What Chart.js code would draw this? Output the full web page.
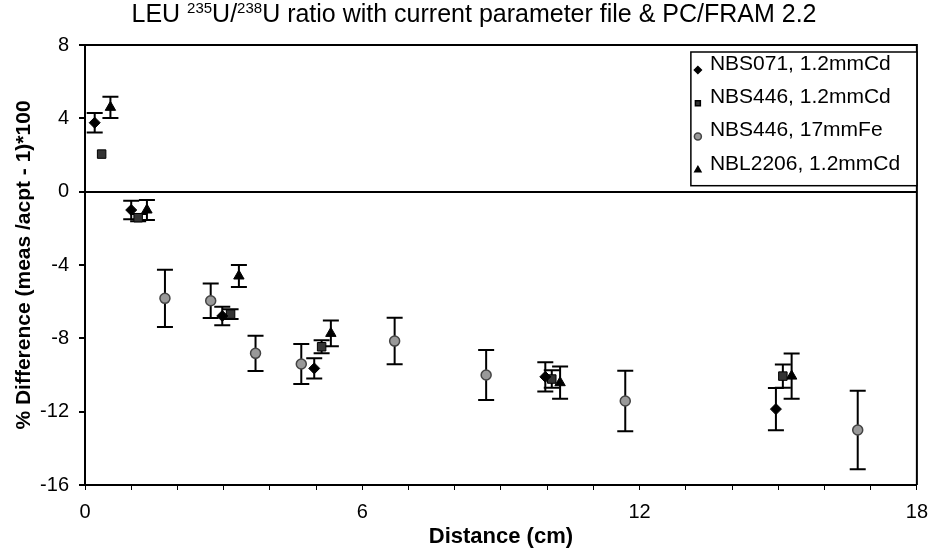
<!DOCTYPE html>
<html>
<head>
<meta charset="utf-8">
<script src="https://cdn.jsdelivr.net/npm/chart.js@4/dist/chart.umd.min.js"></script>
<style>
  html, body { margin: 0; padding: 0; background: #fff; }
  #wrap { position: relative; width: 938px; height: 551px; }
  #title {
    position: absolute; left: 5px; top: -1px; width: 938px; text-align: center;
    font: 25px "Liberation Sans", Arial, sans-serif; color: #000; white-space: nowrap;
  }
  #title sup { font-size: 15px; vertical-align: 9px; line-height: 0; }
</style>
</head>
<body>
<div id="wrap">
  <canvas id="chart" width="938" height="551"></canvas>
  <div id="title">LEU <sup>235</sup>U/<sup>238</sup>U ratio with current parameter file &amp; PC/FRAM 2.2</div>
</div>
<script>
// distance (cm), % difference and +/- error for each source
const distNBS071 = [0.21, 1.0, 2.97, 4.96, 9.96, 14.95];
const diffNBS071 = [3.76, -1.0, -6.78, -9.64, -10.1, -11.86];
const errNBS071 = [0.53, 0.5, 0.5, 0.55, 0.8, 1.15];

const distNBS446Cd = [0.36, 1.15, 3.15, 5.12, 10.1, 15.1];
const diffNBS446Cd = [2.05, -1.42, -6.68, -8.46, -10.22, -10.06];
const errNBS446Cd = [0, 0.2, 0.27, 0.35, 0.48, 0.63];

const distNBS446Fe = [1.73, 2.72, 3.69, 4.68, 6.7, 8.68, 11.69, 16.72];
const diffNBS446Fe = [-5.82, -5.95, -8.82, -9.4, -8.15, -10.0, -11.42, -13.0];
const errNBS446Fe = [1.56, 0.94, 0.96, 1.09, 1.27, 1.37, 1.65, 2.14];

const distNBL2206 = [0.55, 1.34, 3.33, 5.32, 10.28, 15.29];
const diffNBL2206 = [4.6, -1.0, -4.6, -7.73, -10.42, -10.06];
const errNBL2206 = [0.58, 0.55, 0.6, 0.7, 0.88, 1.23];

const seriesLabels = ['NBS071, 1.2mmCd', 'NBS446, 1.2mmCd', 'NBS446, 17mmFe', 'NBL2206, 1.2mmCd'];

const FONT = '"Liberation Sans", Arial, sans-serif';

function points(dist, diff, err) {
  return dist.map((d, i) => ({ x: d, y: diff[i], err: err[i] }));
}

// vertical error bars with caps, drawn under the markers
const errorBars = {
  id: 'errorBars',
  beforeDatasetsDraw(chart) {
    const { ctx, scales: { x, y } } = chart;
    ctx.save();
    ctx.strokeStyle = '#000';
    ctx.lineWidth = 2;
    chart.data.datasets.forEach((ds) => {
      ds.data.forEach((pt) => {
        if (!pt.err) return;
        const px = x.getPixelForValue(pt.x);
        const top = y.getPixelForValue(pt.y + pt.err);
        const bot = y.getPixelForValue(pt.y - pt.err);
        ctx.beginPath();
        ctx.moveTo(px, top); ctx.lineTo(px, bot);
        ctx.moveTo(px - 8, top); ctx.lineTo(px + 8, top);
        ctx.moveTo(px - 8, bot); ctx.lineTo(px + 8, bot);
        ctx.stroke();
      });
    });
    ctx.restore();
  }
};

// top and right edges of the plot frame
const frame = {
  id: 'frame',
  beforeDatasetsDraw(chart) {
    const { ctx, chartArea: a } = chart;
    ctx.save();
    ctx.strokeStyle = '#000';
    ctx.lineWidth = 2;
    ctx.beginPath();
    ctx.moveTo(a.left, a.top);
    ctx.lineTo(a.right, a.top);
    ctx.lineTo(a.right, a.bottom);
    ctx.stroke();
    ctx.restore();
  }
};

// boxed legend in the top right corner of the plot
const boxLegend = {
  id: 'boxLegend',
  afterDraw(chart) {
    const { ctx, chartArea: a } = chart;
    const w = 226, rowH = 33.3, top = a.top + 7;
    const h = rowH * chart.data.datasets.length + 0.5;
    const left = a.right - w;
    ctx.save();
    ctx.fillStyle = '#fff';
    ctx.fillRect(left, top, w, h);
    ctx.strokeStyle = '#000';
    ctx.lineWidth = 1.5;
    ctx.strokeRect(left, top, w, h);
    ctx.font = '21px ' + FONT;
    ctx.textBaseline = 'middle';
    chart.data.datasets.forEach((ds, i) => {
      const cy = top + 12 + i * rowH;
      ctx.fillStyle = ds.backgroundColor;
      ctx.strokeStyle = ds.borderColor;
      Chart.helpers.drawPoint(ctx, {
        pointStyle: ds.pointStyle, radius: 3.5, rotation: 0, borderWidth: 1
      }, left + 7, cy + 6);
      ctx.fillStyle = '#000';
      ctx.fillText(ds.label, left + 19, cy);
    });
    ctx.restore();
  }
};

const ctx = document.getElementById('chart').getContext('2d');

new Chart(ctx, {
  type: 'scatter',
  data: {
    datasets: [
      {
        label: seriesLabels[0],
        data: points(distNBS071, diffNBS071, errNBS071),
        pointStyle: 'rectRot',
        pointRadius: 5.5,
        backgroundColor: '#000',
        borderColor: '#000',
        borderWidth: 1,
      },
      {
        label: seriesLabels[1],
        data: points(distNBS446Cd, diffNBS446Cd, errNBS446Cd),
        pointStyle: 'rect',
        pointRadius: 6,
        backgroundColor: '#333',
        borderColor: '#000',
        borderWidth: 1,
      },
      {
        label: seriesLabels[2],
        data: points(distNBS446Fe, diffNBS446Fe, errNBS446Fe),
        pointStyle: 'circle',
        pointRadius: 5,
        backgroundColor: '#999',
        borderColor: '#444',
        borderWidth: 1.5,
      },
      {
        label: seriesLabels[3],
        data: points(distNBL2206, diffNBL2206, errNBL2206),
        pointStyle: 'triangle',
        pointRadius: 6,
        backgroundColor: '#000',
        borderColor: '#000',
        borderWidth: 1,
      },
    ],
  },
  options: {
    responsive: false,
    animation: false,
    layout: { padding: { left: 0, right: 16, top: 45, bottom: 0 } },
    plugins: {
      legend: { display: false },
      tooltip: { enabled: false },
    },
    scales: {
      x: {
        type: 'linear',
        min: 0,
        max: 18,
        afterFit: (s) => { s.height = 66; },
        border: { color: '#000', width: 2 },
        grid: { color: 'transparent', tickColor: '#000', tickLength: 5, drawOnChartArea: false },
        ticks: {
          stepSize: 1,
          padding: 10,
          color: '#000',
          font: { family: FONT, size: 20 },
          callback: (v) => (v % 6 === 0 ? v : ''),
        },
        title: {
          display: true,
          text: 'Distance (cm)',
          color: '#000',
          font: { family: FONT, size: 22, weight: 'bold' },
          padding: { top: 0, bottom: 1 },
        },
      },
      y: {
        min: -16,
        max: 8,
        afterFit: (s) => { s.width = 85; },
        border: { color: '#000', width: 2 },
        grid: {
          color: (c) => (c.tick && c.tick.value === 0 ? '#000' : 'transparent'),
          lineWidth: 2,
          tickColor: '#000',
          tickLength: 6,
        },
        ticks: {
          stepSize: 4,
          padding: 10,
          color: '#000',
          font: { family: FONT, size: 20 },
        },
        title: {
          display: true,
          text: '% Difference (meas /acpt - 1)*100',
          color: '#000',
          font: { family: FONT, size: 21, weight: 'bold' },
          padding: { top: 12, bottom: 0 },
        },
      },
    },
  },
  plugins: [frame, errorBars, boxLegend],
});
</script>
</body>
</html>
